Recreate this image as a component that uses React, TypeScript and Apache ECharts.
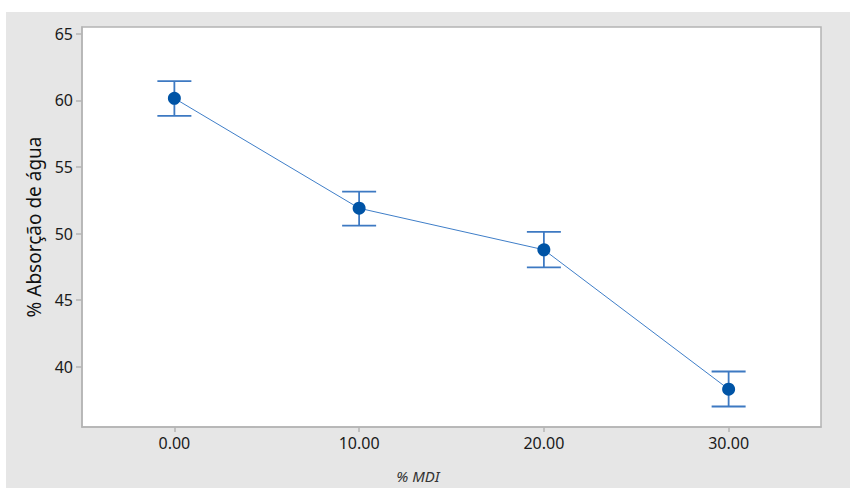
import React, { useEffect, useRef } from "react";
import * as echarts from "echarts";

const mdi = [0, 10, 20, 30];
const means = [60.16, 51.9, 48.78, 38.3];
const lower = [58.84, 50.6, 47.45, 37.0];
const upper = [61.45, 53.15, 50.12, 39.63];
const yTicks = [40, 45, 50, 55, 60, 65];
const xTicks = [0, 10, 20, 30];

const FONT = "'Noto Sans', 'Open Sans', sans-serif";

export default function App() {
  const ref = useRef<HTMLDivElement>(null);
  useEffect(() => {
    if (!ref.current) return;
    const chart = echarts.init(ref.current, undefined, { renderer: "svg" });
    const errData = mdi.map((x, i) => [x, lower[i], upper[i]]);
    chart.setOption({
      animation: false,
      backgroundColor: "#ffffff",
      graphic: [
        {
          type: "rect",
          z: -100,
          silent: true,
          shape: { x: 6, y: 12, width: 844, height: 476 },
          style: { fill: "#e6e6e6" },
        },
      ],
      grid: {
        left: 82,
        top: 27,
        right: 29,
        bottom: 57,
        show: true,
        backgroundColor: "#ffffff",
        borderColor: "#b4b4b4",
        borderWidth: 1.5,
        containLabel: false,
      },
      xAxis: {
        type: "value",
        min: -5,
        max: 35,
        splitLine: { show: false },
        axisLine: { show: true, onZero: false, lineStyle: { color: "#b4b4b4", width: 1.5 } },
        axisTick: {
          show: true,
          length: 5,
          lineStyle: { color: "#b4b4b4", width: 1.5 },
          customValues: xTicks,
        },
        axisLabel: {
          customValues: xTicks,
          formatter: (v: number) => v.toFixed(2),
          color: "#1a1a1a",
          fontSize: 16,
          fontFamily: FONT,
          margin: 8,
        },
        name: "% MDI",
        nameLocation: "middle",
        nameGap: 41,
        nameTextStyle: {
          color: "#333",
          fontSize: 15,
          fontStyle: "italic",
          fontFamily: FONT,
          padding: [0, 67, 0, 0],
        },
      },
      yAxis: {
        type: "value",
        min: 35.46,
        max: 65.52,
        splitLine: { show: false },
        axisLine: { show: true, onZero: false, lineStyle: { color: "#b4b4b4", width: 1.5 } },
        axisTick: {
          show: true,
          length: 6,
          lineStyle: { color: "#b4b4b4", width: 1.5 },
          customValues: yTicks,
        },
        axisLabel: {
          customValues: yTicks,
          color: "#1a1a1a",
          fontSize: 16,
          fontFamily: FONT,
          margin: 9,
        },
        name: "% Absorção de água",
        nameLocation: "middle",
        nameGap: 38,
        nameTextStyle: {
          color: "#111",
          fontSize: 19,
          fontFamily: FONT,
        },
      },
      series: [
        {
          type: "custom",
          data: errData,
          z: 3,
          renderItem: (params: any, api: any) => {
            const x = api.value(0);
            const lo = api.coord([x, api.value(1)]);
            const hi = api.coord([x, api.value(2)]);
            const half = 17;
            const style = { stroke: "#3d79c2", lineWidth: 1.8 };
            return {
              type: "group",
              children: [
                { type: "line", shape: { x1: lo[0], y1: lo[1], x2: hi[0], y2: hi[1] }, style },
                { type: "line", shape: { x1: hi[0] - half, y1: hi[1], x2: hi[0] + half, y2: hi[1] }, style },
                { type: "line", shape: { x1: lo[0] - half, y1: lo[1], x2: lo[0] + half, y2: lo[1] }, style },
              ],
            };
          },
        },
        {
          type: "line",
          data: mdi.map((x, i) => [x, means[i]]),
          z: 4,
          symbol: "circle",
          symbolSize: 13,
          lineStyle: { color: "#3f7ec8", width: 1 },
          itemStyle: { color: "#0054a6" },
        },
      ],
    });
    return () => chart.dispose();
  }, []);
  return (
    <div
      ref={ref}
      style={{ position: "absolute", left: 0, top: 0, width: 850, height: 488 }}
    />
  );
}
